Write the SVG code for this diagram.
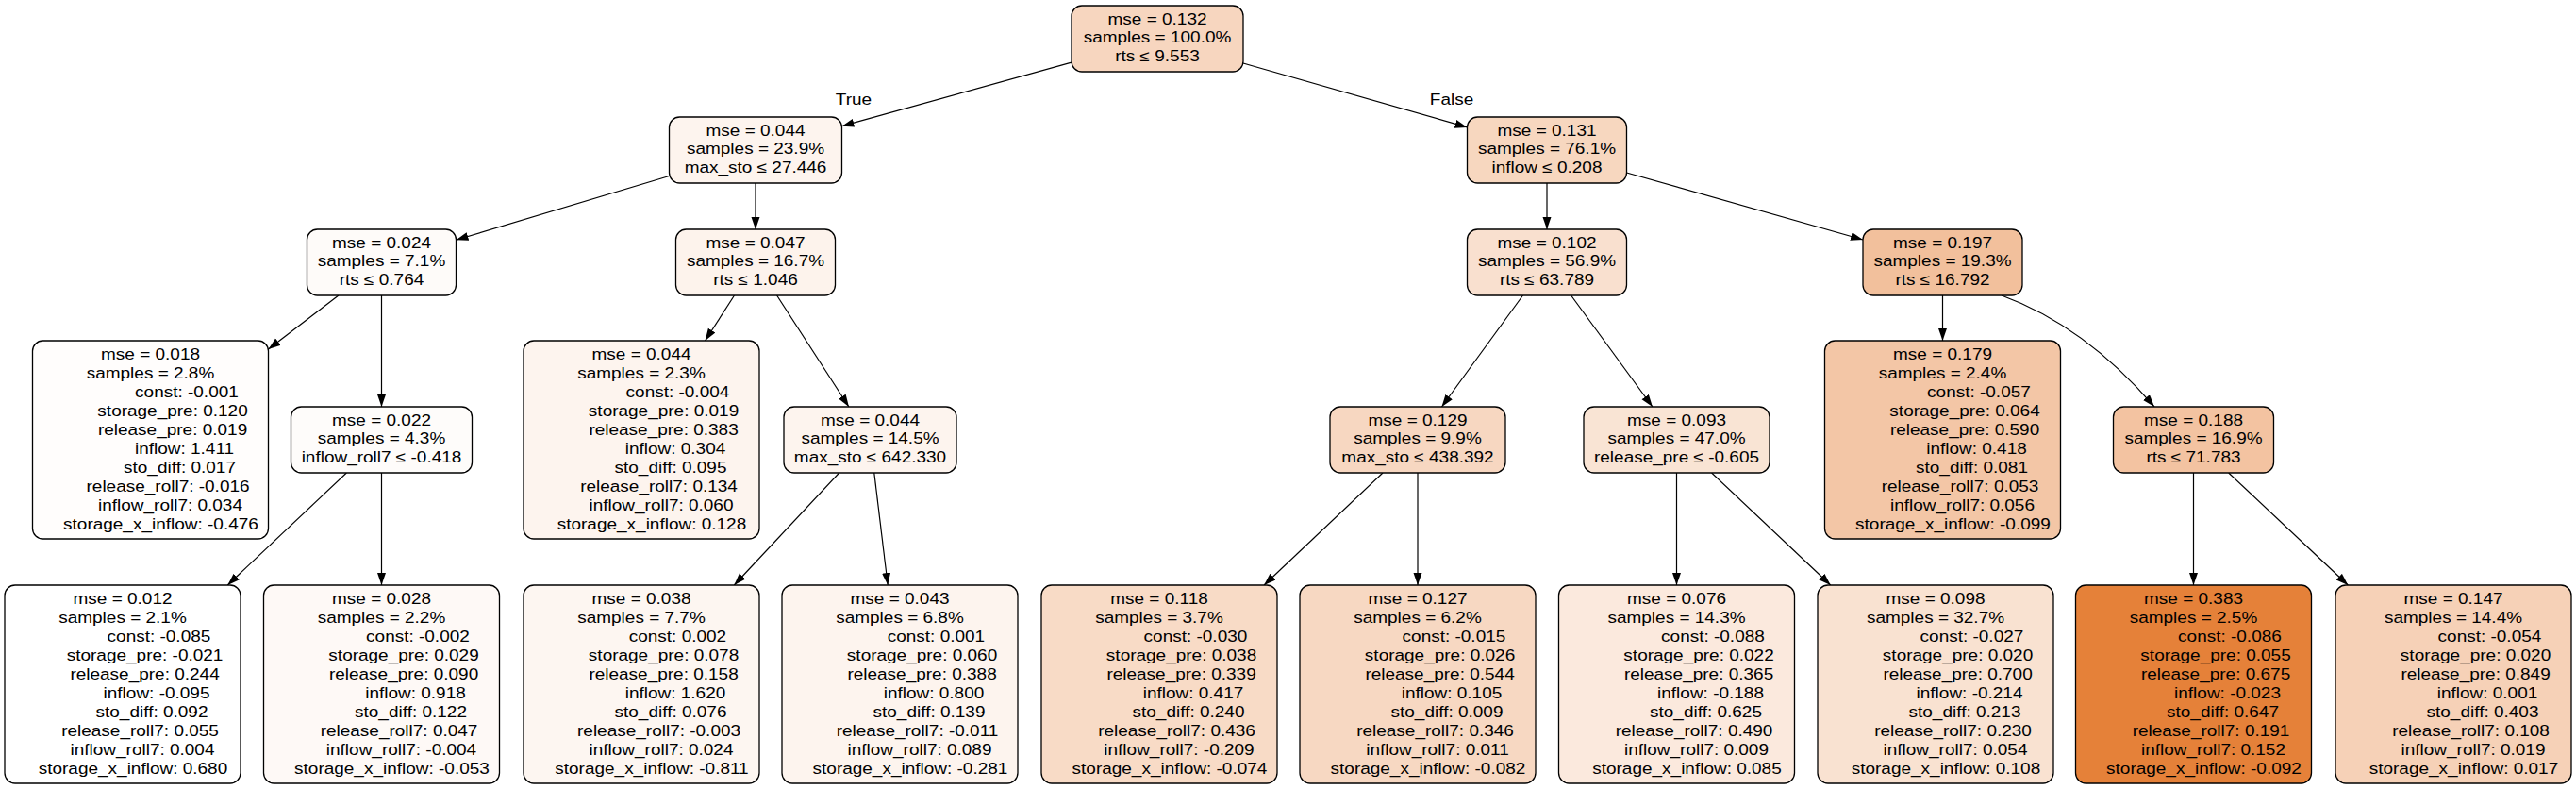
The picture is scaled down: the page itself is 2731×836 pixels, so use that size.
<svg xmlns="http://www.w3.org/2000/svg" width="2731" height="836" viewBox="0 0 2731 836">
<style>
.n rect{stroke:#000;stroke-width:1.3}
text{font-family:"Liberation Sans",Arial,Helvetica,sans-serif;font-size:16.3px;fill:#000;text-anchor:middle}
.e path{stroke:#000;stroke-width:1.2;fill:none;marker-end:url(#ah)}
</style>
<defs>
<marker id="ah" markerUnits="userSpaceOnUse" markerWidth="14" markerHeight="10" refX="13" refY="4.5" orient="auto"><path d="M0,0 L13,4.5 L0,9 z" fill="#000"/></marker>
</defs>
<rect width="2731" height="836" fill="#fff"/>
<g id="edges" class="e">
<path d="M1136,66.2 L892.5,133.7"/>
<path d="M1318,67 L1555.5,134.9"/>
<path d="M709.5,186.5 L483.5,254.3"/>
<path d="M801,194 L801,243"/>
<path d="M1640,194 L1640,243"/>
<path d="M1724.5,183 L1975,254"/>
<path d="M358.9,313 L284.5,370.1"/>
<path d="M404.5,313 L404.5,431"/>
<path d="M778.5,313 L747.6,361"/>
<path d="M823.6,313 L899.9,431"/>
<path d="M1614.5,313 L1528.5,431"/>
<path d="M1665.6,313 L1751.9,431"/>
<path d="M2059.5,313 L2059.5,361"/>
<path d="M2122,313 Q2210,345 2284,431"/>
<path d="M367.4,501 L241.3,620"/>
<path d="M404.5,501 L404.5,620"/>
<path d="M889.7,501 L778.3,620"/>
<path d="M926.8,501 L941.2,620"/>
<path d="M1466,501 L1340.1,620"/>
<path d="M1503,501 L1503,620"/>
<path d="M1777.5,501 L1777.5,620"/>
<path d="M1814.6,501 L1940.7,620"/>
<path d="M2325.5,501 L2325.5,620"/>
<path d="M2362.7,501 L2489.3,620"/>
<g transform="translate(905 0) scale(1.165 1)"><text x="0" y="111">True</text></g>
<g transform="translate(1539 0) scale(1.165 1)"><text x="0" y="111">False</text></g>
</g>

<g id="node0" class="n"><rect x="1136" y="6" width="182" height="70" rx="11" fill="#f7d6bf"/>
<g transform="translate(1227 0) scale(1.165 1)"><text x="0" y="26">mse = 0.132</text><text x="0" y="45.5">samples = 100.0%</text><text x="0" y="65">rts ≤ 9.553</text></g></g>

<g id="node1" class="n"><rect x="709.5" y="124" width="183" height="70" rx="11" fill="#fdf4ee"/>
<g transform="translate(801 0) scale(1.165 1)"><text x="0" y="144">mse = 0.044</text><text x="0" y="163.5">samples = 23.9%</text><text x="0" y="183">max_sto ≤ 27.446</text></g></g>

<g id="node2" class="n"><rect x="1555.5" y="124" width="169" height="70" rx="11" fill="#f7d7bf"/>
<g transform="translate(1640 0) scale(1.165 1)"><text x="0" y="144">mse = 0.131</text><text x="0" y="163.5">samples = 76.1%</text><text x="0" y="183">inflow ≤ 0.208</text></g></g>

<g id="node3" class="n"><rect x="325.5" y="243" width="158" height="70" rx="11" fill="#fefbf9"/>
<g transform="translate(404.5 0) scale(1.165 1)"><text x="0" y="263">mse = 0.024</text><text x="0" y="282.5">samples = 7.1%</text><text x="0" y="302">rts ≤ 0.764</text></g></g>

<g id="node4" class="n"><rect x="716.5" y="243" width="169" height="70" rx="11" fill="#fdf3ec"/>
<g transform="translate(801 0) scale(1.165 1)"><text x="0" y="263">mse = 0.047</text><text x="0" y="282.5">samples = 16.7%</text><text x="0" y="302">rts ≤ 1.046</text></g></g>

<g id="node5" class="n"><rect x="1555.5" y="243" width="169" height="70" rx="11" fill="#f9e0cf"/>
<g transform="translate(1640 0) scale(1.165 1)"><text x="0" y="263">mse = 0.102</text><text x="0" y="282.5">samples = 56.9%</text><text x="0" y="302">rts ≤ 63.789</text></g></g>

<g id="node6" class="n"><rect x="1975" y="243" width="169" height="70" rx="11" fill="#f2c09c"/>
<g transform="translate(2059.5 0) scale(1.165 1)"><text x="0" y="263">mse = 0.197</text><text x="0" y="282.5">samples = 19.3%</text><text x="0" y="302">rts ≤ 16.792</text></g></g>

<g id="node7" class="n"><rect x="308.5" y="431" width="192" height="70" rx="11" fill="#fefcfa"/>
<g transform="translate(404.5 0) scale(1.165 1)"><text x="0" y="451">mse = 0.022</text><text x="0" y="470.5">samples = 4.3%</text><text x="0" y="490">inflow_roll7 ≤ -0.418</text></g></g>

<g id="node8" class="n"><rect x="831" y="431" width="183" height="70" rx="11" fill="#fdf4ee"/>
<g transform="translate(922.5 0) scale(1.165 1)"><text x="0" y="451">mse = 0.044</text><text x="0" y="470.5">samples = 14.5%</text><text x="0" y="490">max_sto ≤ 642.330</text></g></g>

<g id="node9" class="n"><rect x="1410" y="431" width="186" height="70" rx="11" fill="#f7d7c1"/>
<g transform="translate(1503 0) scale(1.165 1)"><text x="0" y="451">mse = 0.129</text><text x="0" y="470.5">samples = 9.9%</text><text x="0" y="490">max_sto ≤ 438.392</text></g></g>

<g id="node10" class="n"><rect x="1679" y="431" width="197" height="70" rx="11" fill="#f9e4d4"/>
<g transform="translate(1777.5 0) scale(1.165 1)"><text x="0" y="451">mse = 0.093</text><text x="0" y="470.5">samples = 47.0%</text><text x="0" y="490">release_pre ≤ -0.605</text></g></g>

<g id="node11" class="n"><rect x="2240.5" y="431" width="170" height="70" rx="11" fill="#f3c3a1"/>
<g transform="translate(2325.5 0) scale(1.165 1)"><text x="0" y="451">mse = 0.188</text><text x="0" y="470.5">samples = 16.9%</text><text x="0" y="490">rts ≤ 71.783</text></g></g>

<g id="leaf1" class="n"><rect x="34.5" y="361" width="250" height="210" rx="11" fill="#fffdfc"/>
<g transform="translate(159.5 0) scale(1.165 1)"><text x="0" y="381">mse = 0.018</text><text x="0" y="401">samples = 2.8%</text><text x="33" y="421">const: -0.001</text><text x="20.2" y="441">storage_pre: 0.120</text><text x="20.2" y="461">release_pre: 0.019</text><text x="30.9" y="481">inflow: 1.411</text><text x="26.6" y="501">sto_diff: 0.017</text><text x="15.9" y="521">release_roll7: -0.016</text><text x="18" y="541">inflow_roll7: 0.034</text><text x="9.4" y="561">storage_x_inflow: -0.476</text></g></g>

<g id="leaf2" class="n"><rect x="555" y="361" width="250" height="210" rx="11" fill="#fdf4ee"/>
<g transform="translate(680 0) scale(1.165 1)"><text x="0" y="381">mse = 0.044</text><text x="0" y="401">samples = 2.3%</text><text x="33" y="421">const: -0.004</text><text x="20.2" y="441">storage_pre: 0.019</text><text x="20.2" y="461">release_pre: 0.383</text><text x="30.9" y="481">inflow: 0.304</text><text x="26.6" y="501">sto_diff: 0.095</text><text x="15.9" y="521">release_roll7: 0.134</text><text x="18" y="541">inflow_roll7: 0.060</text><text x="9.4" y="561">storage_x_inflow: 0.128</text></g></g>

<g id="leaf3" class="n"><rect x="1934.5" y="361" width="250" height="210" rx="11" fill="#f3c6a6"/>
<g transform="translate(2059.5 0) scale(1.165 1)"><text x="0" y="381">mse = 0.179</text><text x="0" y="401">samples = 2.4%</text><text x="33" y="421">const: -0.057</text><text x="20.2" y="441">storage_pre: 0.064</text><text x="20.2" y="461">release_pre: 0.590</text><text x="30.9" y="481">inflow: 0.418</text><text x="26.6" y="501">sto_diff: 0.081</text><text x="15.9" y="521">release_roll7: 0.053</text><text x="18" y="541">inflow_roll7: 0.056</text><text x="9.4" y="561">storage_x_inflow: -0.099</text></g></g>

<g id="leaf4" class="n"><rect x="5" y="620" width="250" height="210" rx="11" fill="#ffffff"/>
<g transform="translate(130 0) scale(1.165 1)"><text x="0" y="640">mse = 0.012</text><text x="0" y="660">samples = 2.1%</text><text x="33" y="680">const: -0.085</text><text x="20.2" y="700">storage_pre: -0.021</text><text x="20.2" y="720">release_pre: 0.244</text><text x="30.9" y="740">inflow: -0.095</text><text x="26.6" y="760">sto_diff: 0.092</text><text x="15.9" y="780">release_roll7: 0.055</text><text x="18" y="800">inflow_roll7: 0.004</text><text x="9.4" y="820">storage_x_inflow: 0.680</text></g></g>

<g id="leaf5" class="n"><rect x="279.5" y="620" width="250" height="210" rx="11" fill="#fef9f6"/>
<g transform="translate(404.5 0) scale(1.165 1)"><text x="0" y="640">mse = 0.028</text><text x="0" y="660">samples = 2.2%</text><text x="33" y="680">const: -0.002</text><text x="20.2" y="700">storage_pre: 0.029</text><text x="20.2" y="720">release_pre: 0.090</text><text x="30.9" y="740">inflow: 0.918</text><text x="26.6" y="760">sto_diff: 0.122</text><text x="15.9" y="780">release_roll7: 0.047</text><text x="18" y="800">inflow_roll7: -0.004</text><text x="9.4" y="820">storage_x_inflow: -0.053</text></g></g>

<g id="leaf6" class="n"><rect x="555" y="620" width="250" height="210" rx="11" fill="#fdf6f1"/>
<g transform="translate(680 0) scale(1.165 1)"><text x="0" y="640">mse = 0.038</text><text x="0" y="660">samples = 7.7%</text><text x="33" y="680">const: 0.002</text><text x="20.2" y="700">storage_pre: 0.078</text><text x="20.2" y="720">release_pre: 0.158</text><text x="30.9" y="740">inflow: 1.620</text><text x="26.6" y="760">sto_diff: 0.076</text><text x="15.9" y="780">release_roll7: -0.003</text><text x="18" y="800">inflow_roll7: 0.024</text><text x="9.4" y="820">storage_x_inflow: -0.811</text></g></g>

<g id="leaf7" class="n"><rect x="829" y="620" width="250" height="210" rx="11" fill="#fdf4ee"/>
<g transform="translate(954 0) scale(1.165 1)"><text x="0" y="640">mse = 0.043</text><text x="0" y="660">samples = 6.8%</text><text x="33" y="680">const: 0.001</text><text x="20.2" y="700">storage_pre: 0.060</text><text x="20.2" y="720">release_pre: 0.388</text><text x="30.9" y="740">inflow: 0.800</text><text x="26.6" y="760">sto_diff: 0.139</text><text x="15.9" y="780">release_roll7: -0.011</text><text x="18" y="800">inflow_roll7: 0.089</text><text x="9.4" y="820">storage_x_inflow: -0.281</text></g></g>

<g id="leaf8" class="n"><rect x="1104" y="620" width="250" height="210" rx="11" fill="#f8dbc6"/>
<g transform="translate(1229 0) scale(1.165 1)"><text x="0" y="640">mse = 0.118</text><text x="0" y="660">samples = 3.7%</text><text x="33" y="680">const: -0.030</text><text x="20.2" y="700">storage_pre: 0.038</text><text x="20.2" y="720">release_pre: 0.339</text><text x="30.9" y="740">inflow: 0.417</text><text x="26.6" y="760">sto_diff: 0.240</text><text x="15.9" y="780">release_roll7: 0.436</text><text x="18" y="800">inflow_roll7: -0.209</text><text x="9.4" y="820">storage_x_inflow: -0.074</text></g></g>

<g id="leaf9" class="n"><rect x="1378" y="620" width="250" height="210" rx="11" fill="#f7d8c2"/>
<g transform="translate(1503 0) scale(1.165 1)"><text x="0" y="640">mse = 0.127</text><text x="0" y="660">samples = 6.2%</text><text x="33" y="680">const: -0.015</text><text x="20.2" y="700">storage_pre: 0.026</text><text x="20.2" y="720">release_pre: 0.544</text><text x="30.9" y="740">inflow: 0.105</text><text x="26.6" y="760">sto_diff: 0.009</text><text x="15.9" y="780">release_roll7: 0.346</text><text x="18" y="800">inflow_roll7: 0.011</text><text x="9.4" y="820">storage_x_inflow: -0.082</text></g></g>

<g id="leaf10" class="n"><rect x="1652.5" y="620" width="250" height="210" rx="11" fill="#fbe9dd"/>
<g transform="translate(1777.5 0) scale(1.165 1)"><text x="0" y="640">mse = 0.076</text><text x="0" y="660">samples = 14.3%</text><text x="33" y="680">const: -0.088</text><text x="20.2" y="700">storage_pre: 0.022</text><text x="20.2" y="720">release_pre: 0.365</text><text x="30.9" y="740">inflow: -0.188</text><text x="26.6" y="760">sto_diff: 0.625</text><text x="15.9" y="780">release_roll7: 0.490</text><text x="18" y="800">inflow_roll7: 0.009</text><text x="9.4" y="820">storage_x_inflow: 0.085</text></g></g>

<g id="leaf11" class="n"><rect x="1927" y="620" width="250" height="210" rx="11" fill="#f9e2d1"/>
<g transform="translate(2052 0) scale(1.165 1)"><text x="0" y="640">mse = 0.098</text><text x="0" y="660">samples = 32.7%</text><text x="33" y="680">const: -0.027</text><text x="20.2" y="700">storage_pre: 0.020</text><text x="20.2" y="720">release_pre: 0.700</text><text x="30.9" y="740">inflow: -0.214</text><text x="26.6" y="760">sto_diff: 0.213</text><text x="15.9" y="780">release_roll7: 0.230</text><text x="18" y="800">inflow_roll7: 0.054</text><text x="9.4" y="820">storage_x_inflow: 0.108</text></g></g>

<g id="leaf12" class="n"><rect x="2200.5" y="620" width="250" height="210" rx="11" fill="#e58139"/>
<g transform="translate(2325.5 0) scale(1.165 1)"><text x="0" y="640">mse = 0.383</text><text x="0" y="660">samples = 2.5%</text><text x="33" y="680">const: -0.086</text><text x="20.2" y="700">storage_pre: 0.055</text><text x="20.2" y="720">release_pre: 0.675</text><text x="30.9" y="740">inflow: -0.023</text><text x="26.6" y="760">sto_diff: 0.647</text><text x="15.9" y="780">release_roll7: 0.191</text><text x="18" y="800">inflow_roll7: 0.152</text><text x="9.4" y="820">storage_x_inflow: -0.092</text></g></g>

<g id="leaf13" class="n"><rect x="2476" y="620" width="250" height="210" rx="11" fill="#f6d1b7"/>
<g transform="translate(2601 0) scale(1.165 1)"><text x="0" y="640">mse = 0.147</text><text x="0" y="660">samples = 14.4%</text><text x="33" y="680">const: -0.054</text><text x="20.2" y="700">storage_pre: 0.020</text><text x="20.2" y="720">release_pre: 0.849</text><text x="30.9" y="740">inflow: 0.001</text><text x="26.6" y="760">sto_diff: 0.403</text><text x="15.9" y="780">release_roll7: 0.108</text><text x="18" y="800">inflow_roll7: 0.019</text><text x="9.4" y="820">storage_x_inflow: 0.017</text></g></g>
</svg>
